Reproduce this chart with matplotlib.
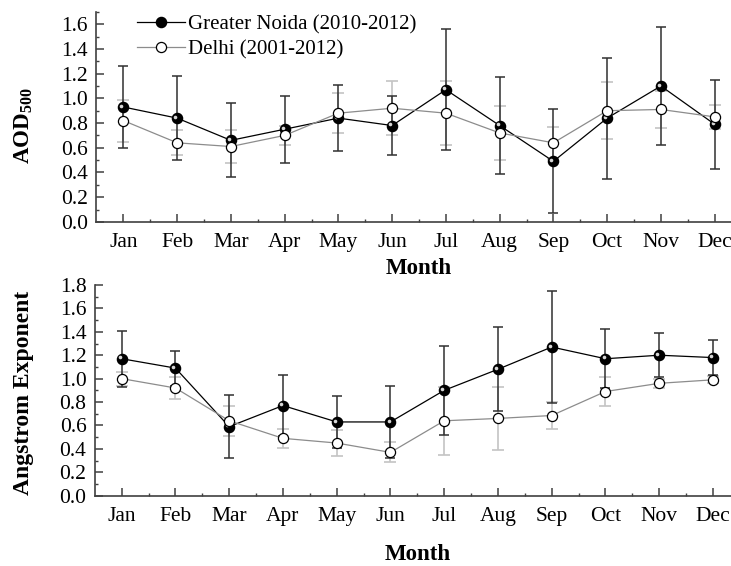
import numpy as np
import matplotlib
matplotlib.use('Agg')
import matplotlib.pyplot as plt
from matplotlib.ticker import MultipleLocator, FixedLocator
from matplotlib.transforms import offset_copy

plt.rcParams['font.family'] = ['Liberation Serif', 'DejaVu Serif']
plt.rcParams['mathtext.fontset'] = 'custom'
plt.rcParams['mathtext.rm'] = 'Liberation Serif'
plt.rcParams['mathtext.bf'] = 'Liberation Serif:bold'

months = ['Jan', 'Feb', 'Mar', 'Apr', 'May', 'Jun',
          'Jul', 'Aug', 'Sep', 'Oct', 'Nov', 'Dec']

# AOD at 500 nm, monthly mean and standard deviation
aod_gn = [0.93, 0.84, 0.66, 0.75, 0.84, 0.78, 1.07, 0.78, 0.49, 0.84, 1.10, 0.79]
aod_gn_sd = [0.33, 0.34, 0.30, 0.27, 0.27, 0.24, 0.49, 0.39, 0.42, 0.49, 0.48, 0.36]
aod_dl = [0.82, 0.64, 0.61, 0.70, 0.88, 0.92, 0.88, 0.72, 0.64, 0.90, 0.91, 0.85]
aod_dl_sd = [0.17, 0.10, 0.13, 0.08, 0.16, 0.22, 0.26, 0.22, 0.13, 0.23, 0.15, 0.10]

# Angstrom exponent, monthly mean and standard deviation
ae_gn = [1.17, 1.09, 0.59, 0.77, 0.63, 0.63, 0.90, 1.08, 1.27, 1.17, 1.20, 1.18]
ae_gn_sd = [0.24, 0.15, 0.27, 0.26, 0.22, 0.31, 0.38, 0.36, 0.48, 0.25, 0.19, 0.15]
ae_dl = [1.00, 0.92, 0.64, 0.49, 0.45, 0.37, 0.64, 0.66, 0.685, 0.89, 0.96, 0.99]
ae_dl_sd = [0.06, 0.09, 0.13, 0.08, 0.11, 0.085, 0.29, 0.27, 0.115, 0.12, 0.04, 0.03]

x = np.arange(1, 13)
spine_col = '#404040'

fig = plt.figure(figsize=(7.31, 5.66), dpi=100)
ax1 = fig.add_axes([0.132, 0.608, 0.8824, 0.371])
ax2 = fig.add_axes([0.1297, 0.1242, 0.8824, 0.3723])


def draw_panel(ax, gn, gn_sd, dl, dl_sd):
    ax.errorbar(x, dl, yerr=dl_sd, fmt='none', ecolor='#c4c4c4',
                elinewidth=1.2, capsize=4, capthick=1.2, zorder=2)
    ax.errorbar(x, gn, yerr=gn_sd, fmt='none', ecolor='#303030',
                elinewidth=1.1, capsize=3.5, capthick=1.1, zorder=3)
    l1, = ax.plot(x, gn, '-', color='black', lw=0.9, marker='o', ms=7.3,
                  mfc='black', mec='black', zorder=4,
                  label='Greater Noida (2010-2012)')
    # small highlight on the filled balls
    hl = offset_copy(ax.transData, fig=fig, x=-1.4, y=1.0, units='points')
    ax.plot(x, gn, 'o', ms=2.6, color='#d8d8d8', mec='none',
            transform=hl, zorder=5)
    l2, = ax.plot(x, dl, '-', color='#8c8c8c', lw=0.9, marker='o', ms=7.3,
                  mfc='white', mec='black', mew=0.9, zorder=6,
                  label='Delhi (2001-2012)')

    ax.set_xlim(0.5, 12.5)
    ax.xaxis.set_major_locator(FixedLocator(x))
    ax.xaxis.set_minor_locator(FixedLocator(x + 0.5))
    ax.set_xticklabels(months)
    ax.yaxis.set_major_locator(MultipleLocator(0.2))
    ax.yaxis.set_minor_locator(MultipleLocator(0.1))
    ax.yaxis.set_major_formatter(matplotlib.ticker.FormatStrFormatter('%.1f'))

    for s in ['top', 'right']:
        ax.spines[s].set_visible(False)
    for s in ['left', 'bottom']:
        ax.spines[s].set_color(spine_col)
        ax.spines[s].set_linewidth(1.2)
    ax.tick_params(which='major', direction='in', length=6, width=1.1,
                   color=spine_col, labelsize=15.5)
    ax.tick_params(which='minor', direction='in', length=2.5, width=1.0,
                   color=spine_col)
    ax.tick_params(axis='x', pad=8)
    ax.tick_params(axis='y', pad=6)
    return l1, l2


l1, l2 = draw_panel(ax1, aod_gn, aod_gn_sd, aod_dl, aod_dl_sd)
ax1.set_ylim(0, 1.7)
ax1.set_xlabel('Month', fontsize=16.5, fontweight='bold', labelpad=4)
ax1.set_ylabel(r'$\mathbf{AOD}_{\mathbf{500}}$', fontsize=16.5)
ax1.yaxis.set_label_coords(-0.095, 0.46)
ax1.legend(handles=[l1, l2], loc='upper left', bbox_to_anchor=(0.05, 1.025),
           frameon=False, fontsize=15, handlelength=2.3, handletextpad=0.15,
           labelspacing=0.25, borderaxespad=0)

draw_panel(ax2, ae_gn, ae_gn_sd, ae_dl, ae_dl_sd)
ax2.set_ylim(0, 1.8)
ax2.set_xlabel('Month', fontsize=16.5, fontweight='bold', labelpad=13)
ax2.set_ylabel('Angstrom Exponent', fontsize=17, fontweight='bold')
ax2.yaxis.set_label_coords(-0.094, 0.49)

fig.savefig('out.png', dpi=100)
